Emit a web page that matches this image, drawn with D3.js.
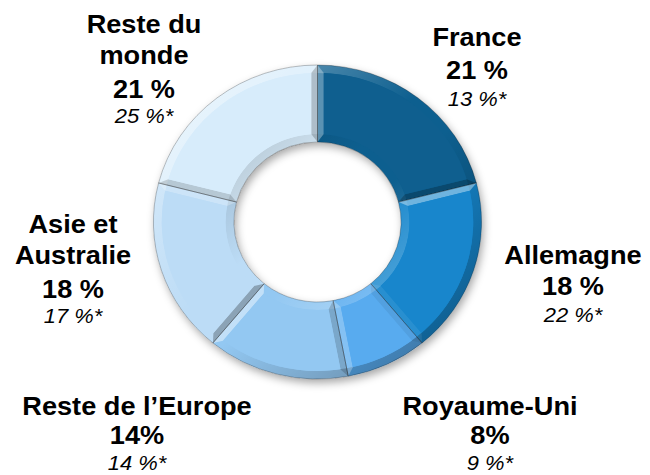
<!DOCTYPE html>
<html>
<head>
<meta charset="utf-8">
<script src="https://cdn.jsdelivr.net/npm/d3@7/dist/d3.min.js"></script>
<style>
  html, body { margin: 0; padding: 0; background: #ffffff; }
  svg { display: block; }
  text { font-family: "Liberation Sans", Arial, Helvetica, sans-serif; fill: #000; }
</style>
</head>
<body>
<script>
// ---- data ----
const categories = ["France", "Allemagne", "Royaume-Uni", "Reste de l’Europe", "Asie et Australie", "Reste du monde"];
const shares = [21, 18, 8, 14, 18, 21];
const shareLabels = ["21 %", "18 %", "8%", "14%", "18 %", "21 %"];
const priorLabels = ["13 %*", "22 %*", "9 %*", "14 %*", "17 %*", "25 %*"];
const nameLines = [["France"], ["Allemagne"], ["Royaume-Uni"], ["Reste de l’Europe"], ["Asie et", "Australie"], ["Reste du", "monde"]];
const colors = ["#0f5f8f", "#1886cc", "#58abef", "#93c8f2", "#bcdcf6", "#d7ecfb"];

// ---- layout (label anchor x and baselines, in page pixels) ----
const labelX = [477, 573, 490, 137, 73, 144];
const labelBaselines = [
  [46, 79, 106],
  [264, 295, 322],
  [415, 444, 470],
  [415, 444, 470],
  [233, 264, 298, 323],
  [33, 64, 98, 123]
];

const W = 650, H = 475;
const sx = 1.045;            // slight horizontal stretch of the original picture
const cx = 317.5, cy = 222;
const R = 157, r0 = 80, bev = 8, inset = 6;

const svg = d3.select("body").append("svg").attr("width", W).attr("height", H);
svg.append("rect").attr("width", W).attr("height", H).attr("fill", "#fff");

const defs = svg.append("defs");
const f = defs.append("filter").attr("id", "shadow").attr("x", "-20%").attr("y", "-20%").attr("width", "140%").attr("height", "140%");
f.append("feDropShadow").attr("dx", 2).attr("dy", 4).attr("stdDeviation", 4).attr("flood-color", "#000").attr("flood-opacity", 0.35);

function lightGrad(id, reverse) {
  const g = defs.append("linearGradient").attr("id", id)
    .attr("gradientUnits", "userSpaceOnUse")
    .attr("x1", -R).attr("y1", -R).attr("x2", R).attr("y2", R);
  const stops = reverse
    ? [[0, "#000", 0.35], [0.45, "#000", 0], [0.55, "#fff", 0], [1, "#fff", 0.6]]
    : [[0, "#fff", 0.55], [0.45, "#fff", 0], [0.55, "#000", 0], [1, "#000", 0.4]];
  stops.forEach(s => g.append("stop").attr("offset", s[0]).attr("stop-color", s[1]).attr("stop-opacity", s[2]));
}
lightGrad("outerLight", false);
lightGrad("innerLight", true);

const root = svg.append("g").attr("transform", `scale(${sx},1)`);
const donut = root.append("g").attr("transform", `translate(${cx / sx},${cy})`);

const pie = d3.pie().sort(null).value(d => d);
const arcs = pie(shares);

const arcFull = d3.arc().innerRadius(r0).outerRadius(R);
const arcOuterBand = d3.arc().innerRadius(R - bev).outerRadius(R);
const arcInnerBand = d3.arc().innerRadius(r0).outerRadius(r0 + bev);
const arcFace = d3.arc().innerRadius(r0 + bev).outerRadius(R - bev).padRadius(160).padAngle(2 * inset / 160);

// base slices with shadow
donut.append("g").attr("filter", "url(#shadow)")
  .selectAll("path").data(arcs).join("path")
  .attr("d", arcFull)
  .attr("fill", (d, i) => colors[i]);

const slices = donut.append("g").selectAll("g").data(arcs).join("g");

// outer & inner bevel bands
slices.append("path").attr("d", arcOuterBand).attr("fill", "url(#outerLight)");
slices.append("path").attr("d", arcInnerBand).attr("fill", "url(#innerLight)");

// radial side bevels
const L = [-Math.SQRT1_2, -Math.SQRT1_2];
function sideBand(a, side) {
  const n = [side * Math.cos(a), side * Math.sin(a)];
  const p = (r, off) => [r * Math.sin(a) - n[0] * off, -r * Math.cos(a) - n[1] * off];
  const pts = [p(r0, 0), p(R, 0), p(R - bev, inset), p(r0 + bev, inset)];
  const b = n[0] * L[0] + n[1] * L[1];
  return { d: d3.line()(pts) + "Z", b };
}
slices.each(function (d) {
  const g = d3.select(this);
  [[d.startAngle, -1], [d.endAngle, 1]].forEach(([a, s]) => {
    const sb = sideBand(a, s);
    g.append("path").attr("d", sb.d)
      .attr("fill", sb.b > 0 ? "#fff" : "#000")
      .attr("fill-opacity", Math.abs(sb.b) * (sb.b > 0 ? 0.4 : 0.22) + 0.04);
  });
});

// flat faces
slices.append("path").attr("d", arcFace).attr("fill", (d, i) => colors[i]);

// thin separators
slices.append("path").attr("d", arcFull).attr("fill", "none")
  .attr("stroke", "rgba(0,0,0,0.3)").attr("stroke-width", 0.8);

// ---- labels ----
const labels = root.append("g");
categories.forEach((c, i) => {
  const x = labelX[i] / sx;
  const ys = labelBaselines[i];
  const lines = nameLines[i];
  const t = labels.append("g").attr("class", "label");
  lines.forEach((ln, k) => {
    t.append("text").attr("x", x).attr("y", ys[k]).attr("text-anchor", "middle")
      .attr("font-size", 26).attr("font-weight", "bold").text(ln);
  });
  t.append("text").attr("x", x).attr("y", ys[lines.length]).attr("text-anchor", "middle")
    .attr("font-size", 26).attr("font-weight", "bold").text(shareLabels[i]);
  t.append("text").attr("x", x).attr("y", ys[lines.length + 1]).attr("text-anchor", "middle")
    .attr("font-size", 21).attr("font-style", "italic").text(priorLabels[i]);
});
</script>
</body>
</html>
